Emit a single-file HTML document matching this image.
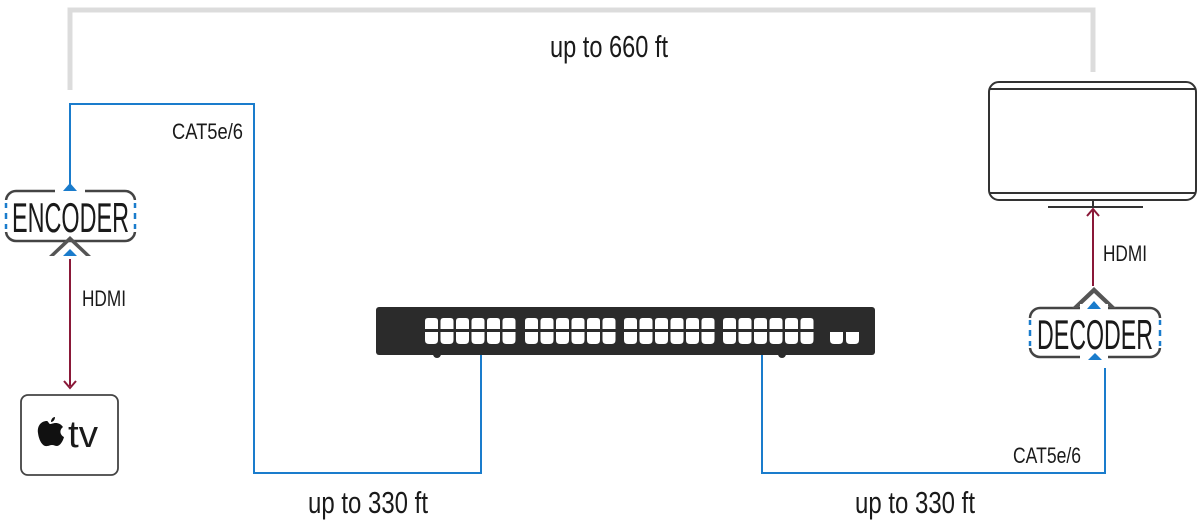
<!DOCTYPE html>
<html><head><meta charset="utf-8"><style>
html,body{margin:0;padding:0;background:#fff;width:1200px;height:527px;overflow:hidden}
svg text{font-family:"Liberation Sans Narrow","Liberation Sans",sans-serif;fill:#1a1a1a}
</style></head><body>
<svg width="1200" height="527" viewBox="0 0 1200 527" xmlns="http://www.w3.org/2000/svg">
<defs>
<g id="pt"><path d="M0,3 Q0,0 3,0 H10 Q13,0 13,3 V11 H0 Z" fill="#fff"/><path d="M0,14 H13 V22 Q13,26 9,26 H4 Q0,26 0,22 Z" fill="#fff"/></g>
<g id="g6"><use href="#pt" x="0"/><use href="#pt" x="15.5"/><use href="#pt" x="31"/><use href="#pt" x="46.5"/><use href="#pt" x="62"/><use href="#pt" x="77.5"/></g>
</defs>
<path d="M70,90 V10 H1093 V72" fill="none" stroke="#dcdcdc" stroke-width="5"/>
<text x="550" y="57" font-size="31" textLength="118" lengthAdjust="spacingAndGlyphs">up to 660 ft</text>
<path d="M70,185 V104 H254 V473 H481 V355" fill="none" stroke="#1a7ccc" stroke-width="2"/>
<path d="M762,355 V473 H1105 V368" fill="none" stroke="#1a7ccc" stroke-width="2"/>
<text x="172" y="139" font-size="22" textLength="71" lengthAdjust="spacingAndGlyphs">CAT5e/6</text>
<text x="1013" y="463" font-size="22" textLength="68" lengthAdjust="spacingAndGlyphs">CAT5e/6</text>
<text x="308" y="513" font-size="31" textLength="120" lengthAdjust="spacingAndGlyphs">up to 330 ft</text>
<text x="855" y="513" font-size="31" textLength="120" lengthAdjust="spacingAndGlyphs">up to 330 ft</text>
<!-- encoder -->
<rect x="6" y="191" width="129" height="50" rx="10" fill="#fff" stroke="#444" stroke-width="2.5"/>
<rect x="2" y="200" width="8" height="32" fill="#fff"/><rect x="131" y="200" width="8" height="32" fill="#fff"/>
<path d="M6,203 V208 M6,213 V219 M6,224 V229 M135,203 V208 M135,213 V219 M135,224 V229" stroke="#1a7ccc" stroke-width="2.5"/>
<rect x="55" y="185" width="30" height="8" fill="#fff"/>
<path d="M63,191 L70,183 L77,191 Z" fill="#1a7ccc"/>
<path d="M49,256 L70,236 L91,256 L86,256 L70,241 L54,256 Z" fill="#555"/>
<path d="M63,256 L70,249 L77,256 Z" fill="#1a7ccc"/>
<text x="12" y="232" font-size="42" textLength="117" lengthAdjust="spacingAndGlyphs">ENCODER</text>
<path d="M70,259 V386" stroke="#8a1838" stroke-width="2"/>
<path d="M64,381 L70,388 L76,381" fill="none" stroke="#8a1838" stroke-width="2"/>
<text x="82" y="306" font-size="22" textLength="44" lengthAdjust="spacingAndGlyphs">HDMI</text>
<!-- apple tv -->
<rect x="21" y="395" width="97" height="80" rx="7" fill="#fff" stroke="#444" stroke-width="1.8"/>
<path d="M47,421 C41,421 37,426 38,433 C39,441 43,447 47,446 C49,446 50,445 52,445 C54,445 55,446 57,446 C60,446 63,441 64,437 C60,435 59,430 63,427 C61,424 58,423 56,423 C53,423 52,424 50,424 C49,424 48,421 47,421 Z M51,422 C51,419 53,417 55,417 C55,420 53,422 51,422 Z" fill="#111"/>
<text x="68" y="447" font-size="38" textLength="30" lengthAdjust="spacingAndGlyphs">tv</text>
<!-- switch -->
<rect x="376" y="307" width="499" height="48" rx="3" fill="#2b2b2b"/>
<circle cx="437" cy="354" r="4" fill="#2b2b2b"/><circle cx="782" cy="354" r="4" fill="#2b2b2b"/>
<use href="#g6" x="425" y="318"/><use href="#g6" x="525" y="318"/><use href="#g6" x="624" y="318"/><use href="#g6" x="723" y="318"/>
<use href="#pt" x="830" y="318"/><use href="#pt" x="846" y="318"/>
<rect x="828" y="318" width="34" height="13" fill="#2b2b2b"/>
<!-- decoder -->
<rect x="1030" y="308" width="130" height="49" rx="10" fill="#fff" stroke="#444" stroke-width="2.5"/>
<rect x="1026" y="318" width="8" height="30" fill="#fff"/><rect x="1156" y="318" width="8" height="30" fill="#fff"/>
<path d="M1030,320 V325 M1030,330 V336 M1030,341 V346 M1160,320 V325 M1160,330 V336 M1160,341 V346" stroke="#1a7ccc" stroke-width="2.5"/>
<path d="M1072,308 L1094,287 L1116,308 L1110,308 L1094,293 L1078,308 Z" fill="#555"/>
<rect x="1080" y="304" width="28" height="6" fill="#fff"/>
<path d="M1087,309 L1094,301 L1101,309 Z" fill="#1a7ccc"/>
<rect x="1080" y="355" width="28" height="5" fill="#fff"/>
<path d="M1088,360 L1095,353 L1102,360 Z" fill="#1a7ccc"/>
<text x="1037" y="349" font-size="42" textLength="116" lengthAdjust="spacingAndGlyphs">DECODER</text>
<path d="M1093,286 V210" stroke="#8a1838" stroke-width="2"/>
<path d="M1087,216 L1093,209 L1099,216" fill="none" stroke="#8a1838" stroke-width="2"/>
<text x="1103" y="261" font-size="22" textLength="44" lengthAdjust="spacingAndGlyphs">HDMI</text>
<!-- tv -->
<rect x="989" y="82" width="207" height="118" rx="10" fill="#fff" stroke="#333" stroke-width="2"/>
<path d="M990,89 H1195 M990,193 H1195" stroke="#333" stroke-width="2"/>
<path d="M1093,200 V207 M1048,207 H1143" stroke="#333" stroke-width="2"/>
</svg>
</body></html>
